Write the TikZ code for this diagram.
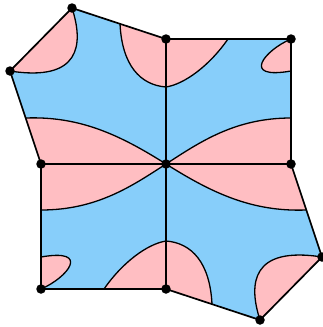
\documentclass[tikz,border=0pt]{standalone}
\usetikzlibrary{calc}
\definecolor{skyb}{RGB}{135,206,250}
\definecolor{rose}{RGB}{255,190,194}

\begin{document}
\begin{tikzpicture}[x=1pt, y=-1pt,
    dot/.style={circle, fill=black, inner sep=0pt, minimum size=9.5pt},
    bnd/.style={line width=1.7pt, line join=round},
    crv/.style={line width=1.3pt},
    pnk/.style={fill=rose},
    blu/.style={fill=skyb}
]
\useasboundingbox (0,0) rectangle (323,327);
% two quadrants, second copy turned half way round the centre
\foreach \ang in {0,180}{
\begin{scope}[rotate around={\ang:(166,164)}]
\fill[blu] (166,164) -- (41,164) -- (10,71) -- (72,8) -- (166,39) -- (291,39) -- (291,164) -- cycle;
\fill[pnk] (72,8) .. controls (84,45) and (80,82) .. (10,71) -- cycle;
\fill[pnk] (120,23.8) -- (166,39) -- (166,87) .. controls (140,85) and (122,65) .. (120,23.8);
\fill[pnk] (25.7,118) .. controls (80,116) and (120,135) .. (166,164) -- (41,164) -- cycle;
\fill[pnk] (166,39) -- (166,87) .. controls (185,84) and (210,65) .. (228,39) -- cycle;
\fill[pnk] (291,39) .. controls (265,50) and (240,80) .. (291,71) -- cycle;
\fill[pnk] (166,164) .. controls (200,142) and (235,118) .. (291,118) -- (291,164) -- cycle;
\draw[crv] (72,8) .. controls (84,45) and (80,82) .. (10,71);
\draw[crv] (120,23.8) .. controls (122,65) and (140,85) .. (166,87);
\draw[crv] (25.7,118) .. controls (80,116) and (120,135) .. (166,164);
\draw[crv] (166,87) .. controls (185,84) and (210,65) .. (228,39);
\draw[crv] (291,39) .. controls (265,50) and (240,80) .. (291,71);
\draw[crv] (166,164) .. controls (200,142) and (235,118) .. (291,118);
\end{scope}}

% outline
\coordinate (pa) at (72,8);
\coordinate (pb) at (10,71);
\coordinate (ptm) at (166,39);
\coordinate (ptr) at (291,39);
\coordinate (plm) at (41,164);
\coordinate (pc) at (166,164);
\coordinate (prm) at (291,164);
\coordinate (pbl) at (41,289);
\coordinate (pbm) at (166,289);
\coordinate (pe) at (322,257);
\coordinate (pf) at (260,320);

\draw[bnd] (pa) -- (ptm) -- (ptr) -- (prm) -- (pe) -- (pf)
    -- (pbm) -- (pbl) -- (plm) -- (pb) -- cycle;
\draw[bnd] (plm) -- (pc) -- (prm);
\draw[bnd] (ptm) -- (pc) -- (pbm);

% vertices
\foreach \v in {a,b,tm,tr,lm,c,rm,bl,bm,e,f}
    \node[dot] (\v) at (p\v) {};
\end{tikzpicture}
\end{document}
